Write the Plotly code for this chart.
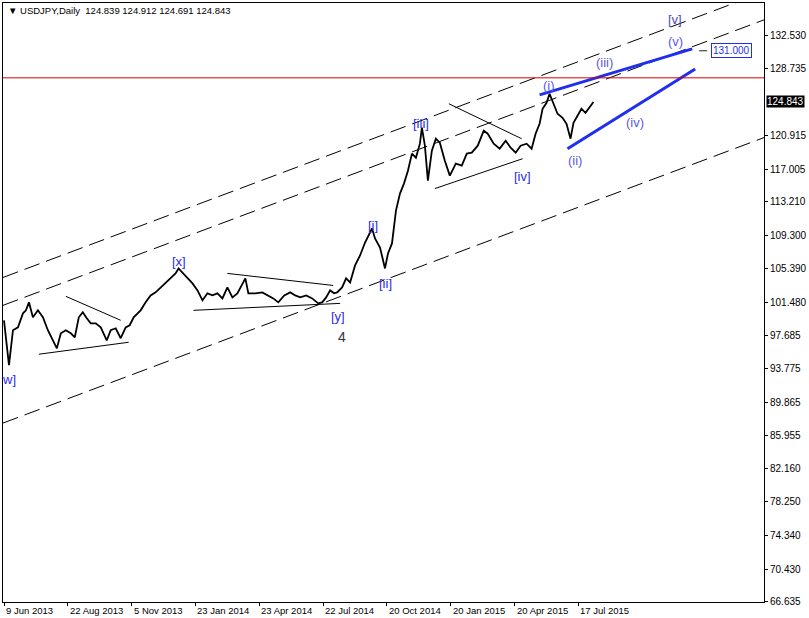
import plotly.graph_objects as go

# ---------------- data ----------------
BAR_INDEX = [0, 2, 5, 9, 14, 19, 22, 25, 29, 34, 39, 44, 50, 53, 57, 62, 67, 71, 75, 79,
             83, 87, 92, 97, 103, 107, 112, 117, 122, 126, 130, 137, 142, 147, 152, 157, 162, 167, 172, 175,
             180, 185, 189, 194, 199, 204, 209, 214, 219, 224, 229, 234, 239, 242, 245, 252, 259, 265, 270, 275,
             281, 287, 292, 297, 303, 309, 315, 319, 323, 327, 331, 334, 339, 343, 347, 352, 357, 362, 365, 369,
             372, 377, 382, 385, 389, 393, 397, 401, 405, 409, 413, 417, 419, 422, 425, 429, 433, 437, 442, 447,
             453, 459, 464, 469, 475, 481, 485, 491, 497, 503, 508, 513, 518, 524, 529, 533, 537, 540, 544, 547,
             551, 555, 560, 564, 568, 571, 575, 579, 583, 587, 591]
CLOSE = [99.41, 97.08, 94.18, 98.25, 98.59, 100.22, 100.57, 101.50, 99.76, 100.57, 99.76, 98.25, 96.73, 96.15, 97.90, 98.25, 97.90, 97.43, 99.76, 100.34,
         99.64, 99.06, 99.06, 98.59, 97.08, 98.25, 98.48, 97.32, 98.59, 98.83, 99.76, 100.57, 101.50, 102.31, 102.66, 103.24, 103.71, 104.29, 104.87, 105.45,
         104.87, 104.29, 103.71, 102.89, 101.73, 102.55, 102.31, 102.55, 101.96, 103.24, 102.08, 102.55, 103.71, 104.29, 102.55, 102.55, 102.66, 102.31, 101.96, 101.50,
         102.31, 102.66, 102.31, 102.08, 102.31, 101.96, 101.38, 101.50, 102.08, 102.89, 102.55, 102.66, 103.24, 104.29, 103.82, 105.80, 106.96, 108.47, 109.17, 110.10,
         108.94, 107.89, 105.45, 107.19, 108.36, 112.19, 114.17, 115.33, 116.84, 118.82, 118.35, 119.98, 121.84, 119.75, 115.68, 119.16, 120.56, 120.09, 118.00, 116.26,
         117.65, 117.42, 118.82, 118.93, 119.75, 121.49, 121.14, 119.98, 119.40, 120.33, 119.51, 118.93, 119.75, 119.98, 119.40, 121.14, 122.30, 124.05, 124.74, 125.79,
         124.63, 123.46, 123.00, 122.30, 120.56, 122.42, 123.23, 124.05, 123.58, 124.16, 124.843]
assert len(BAR_INDEX) == len(CLOSE)

X_TICK_INDEX = [0, 64, 128, 192, 256, 320, 384, 448, 512, 576]
X_TICK_LABELS = ["9 Jun 2013", "22 Aug 2013", "5 Nov 2013", "23 Jan 2014", "23 Apr 2014",
                 "22 Jul 2014", "20 Oct 2014", "20 Jan 2015", "20 Apr 2015", "17 Jul 2015"]
Y_TICKS = [132.530, 128.735, 120.915, 117.005, 113.210, 109.300, 105.390, 101.480,
           97.685, 93.775, 89.865, 85.955, 82.160, 78.250, 74.340, 70.430, 66.635]
Y_TICK_LABELS = ["%.3f" % v for v in Y_TICKS]

TITLE = "\u25bc USDJPY,Daily  124.839 124.912 124.691 124.843"
LAST_PRICE = 124.843
TARGET_PRICE = 131.000
RED_LEVEL = 127.65

# channel lines: (x0, y0, x1, y1) in bar index / price
CHANNEL_LINES = [(-1, 104.40, 762, 137.65),
                 (-1, 101.15, 762, 134.40),
                 (-1, 87.44, 762, 120.69)]
# triangle / wedge borders
TREND_LINES = [(62, 102.20, 117, 99.41), (35, 95.46, 125, 96.85),
               (224, 104.87, 330, 103.47), (190, 100.57, 337, 101.38),
               (446, 124.63, 519, 120.56), (432, 114.75, 520, 118.23)]
# blue wave lines
WAVE_LINES = [(537, 125.67, 690, 131.02), (565, 119.40, 693, 128.69)]

WAVE_LABELS = ["w]", "[x]", "[y]", "[i]", "[ii]", "[iii]", "[iv]", "[v]",
               "(i)", "(ii)", "(iii)", "(iv)", "(v)"]
WAVE_LABEL_X = [5, 175, 335, 370, 382, 418, 520, 673, 546, 572, 602, 633, 673]
WAVE_LABEL_Y = [92.55, 106.26, 99.87, 110.45, 103.71, 122.30, 116.14, 134.39,
                126.72, 118.00, 129.39, 122.42, 131.83]
DEGREE_LABEL = "4"
DEGREE_X, DEGREE_Y = 339, 97.43

FONT = "Liberation Sans, Arial, sans-serif"

fig = go.Figure()

for (x0, y0, x1, y1) in CHANNEL_LINES:
    fig.add_trace(go.Scatter(x=[x0, x1], y=[y0, y1], mode="lines",
                             line=dict(color="black", width=1, dash="16px,7px"),
                             hoverinfo="skip", showlegend=False))
for (x0, y0, x1, y1) in TREND_LINES:
    fig.add_trace(go.Scatter(x=[x0, x1], y=[y0, y1], mode="lines",
                             line=dict(color="black", width=1),
                             hoverinfo="skip", showlegend=False))

fig.add_trace(go.Scatter(x=BAR_INDEX, y=CLOSE, mode="lines",
                         line=dict(color="black", width=1.8),
                         showlegend=False))

for (x0, y0, x1, y1) in WAVE_LINES:
    fig.add_trace(go.Scatter(x=[x0, x1], y=[y0, y1], mode="lines",
                             line=dict(color="#1f2ff0", width=3),
                             hoverinfo="skip", showlegend=False))

# red horizontal level
fig.add_shape(type="line", xref="paper", x0=0, x1=1, yref="y", y0=RED_LEVEL, y1=RED_LEVEL,
              line=dict(color="#d00000", width=1))
# short dash next to target label
fig.add_shape(type="line", xref="x", x0=697, x1=705, yref="y", y0=TARGET_PRICE - 0.2, y1=TARGET_PRICE - 0.2,
              line=dict(color="#222222", width=1))

annotations = []
for lab, x, y in zip(WAVE_LABELS, WAVE_LABEL_X, WAVE_LABEL_Y):
    if lab.startswith("("):
        col = "#5a5ae8"
    elif lab == "[v]":
        col = "#4a4ab8"
    else:
        col = "#2b2bf0"
    annotations.append(dict(x=x, y=y, xref="x", yref="y", text=lab, showarrow=False,
                            font=dict(family=FONT, size=13, color=col)))
annotations.append(dict(x=DEGREE_X, y=DEGREE_Y, xref="x", yref="y", text=DEGREE_LABEL,
                        showarrow=False, font=dict(family=FONT, size=14, color="#333333")))

for xi, lab in zip(X_TICK_INDEX, X_TICK_LABELS):
    annotations.append(dict(x=xi, y=0, xref="x", yref="paper", xanchor="left", yanchor="top",
                            yshift=-1, text=lab, showarrow=False,
                            font=dict(family=FONT, size=9.5, color="black")))

annotations.append(dict(x=0, y=1, xref="paper", yref="paper", xanchor="left", yanchor="top",
                        xshift=3, yshift=0, text=TITLE, showarrow=False,
                        font=dict(family=FONT, size=9.5, color="black")))
annotations.append(dict(x=1, y=LAST_PRICE, xref="paper", yref="y", xanchor="left",
                        xshift=2, text="%.3f" % LAST_PRICE, showarrow=False, bgcolor="black",
                        borderpad=0, font=dict(family=FONT, size=10, color="white")))
annotations.append(dict(x=709, y=TARGET_PRICE - 0.2, xref="x", yref="y", xanchor="left",
                        text="%.3f" % TARGET_PRICE, showarrow=False, bgcolor="white",
                        bordercolor="#1f2ff0", borderwidth=1, borderpad=1,
                        font=dict(family=FONT, size=10, color="#1f2ff0")))

fig.update_layout(
    width=809, height=618,
    margin=dict(l=2, r=44, t=2, b=16),
    paper_bgcolor="white", plot_bgcolor="white",
    annotations=annotations,
    showlegend=False,
    xaxis=dict(range=[-1, 762], showgrid=False, zeroline=False,
               tickvals=X_TICK_INDEX, showticklabels=False, ticks="outside", ticklen=3,
               tickcolor="black", showline=True, linecolor="black", linewidth=1, mirror=True),
    yaxis=dict(range=[66.60, 136.365], side="right", showgrid=False, zeroline=False,
               tickvals=Y_TICKS, ticktext=Y_TICK_LABELS, ticks="outside", ticklen=3,
               tickcolor="black", tickfont=dict(family=FONT, size=10, color="black"),
               showline=True, linecolor="black", linewidth=1, mirror=True),
)

html = fig.to_html(full_html=True, include_plotlyjs=True, config={"displayModeBar": False})
html = html.replace("<head>", "<head><style>html,body{margin:0;padding:0;overflow:hidden;}</style>", 1)
with open("out.html", "w", encoding="utf-8") as f:
    f.write(html)
